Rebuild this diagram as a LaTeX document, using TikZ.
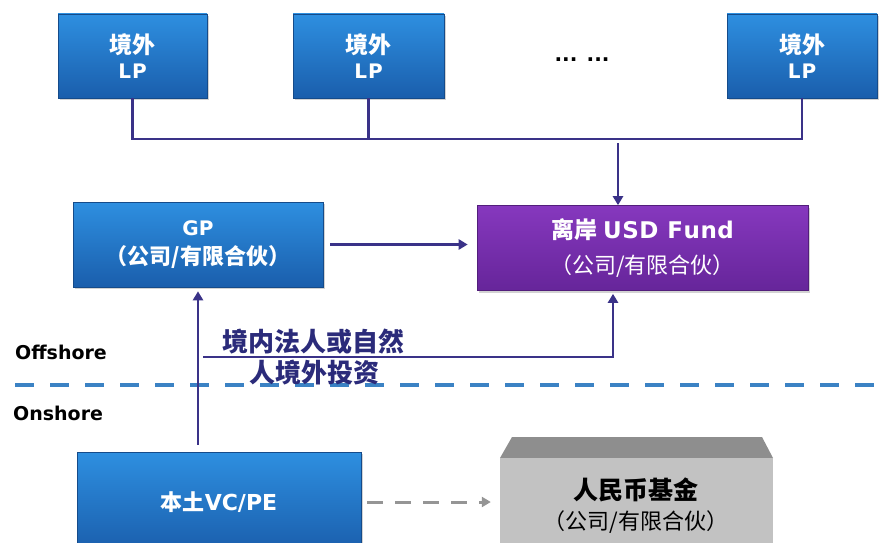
\documentclass[tikz,border=0pt]{standalone}
\usepackage{fontspec}
\newfontfamily\cjk{Noto Sans CJK SC}
\newfontfamily\dv{DejaVu Sans}
\usetikzlibrary{arrows.meta,shadows}
\definecolor{boxtop}{HTML}{2E8FE0}
\definecolor{boxbot}{HTML}{1A5EAC}
\definecolor{purtop}{HTML}{8638BE}
\definecolor{purbot}{HTML}{66259A}
\definecolor{arrowc}{HTML}{3A3288}
\definecolor{divc}{HTML}{3B82C4}
\definecolor{grayarr}{HTML}{959595}
\definecolor{rmbfront}{HTML}{C2C2C2}
\definecolor{rmbtop}{HTML}{8E8E8E}
\definecolor{labc}{HTML}{2B2B7A}
\tikzset{
  bluebox/.style={rectangle, top color=boxtop, bottom color=boxbot, draw=boxbot!80!black, line width=0.6pt,
    text=white, align=center, inner sep=0pt,
    drop shadow={shadow xshift=1.5pt, shadow yshift=-2pt, opacity=0.35}},
  purbox/.style={rectangle, top color=purtop, bottom color=purbot, draw=purbot!80!black, line width=0.6pt,
    text=white, align=center, inner sep=0pt,
    drop shadow={shadow xshift=1.5pt, shadow yshift=-2pt, opacity=0.35}},
  conn/.style={draw=arrowc, line width=2.6pt},
  arr/.style={conn, -{Triangle[width=10pt,length=9pt]}},
  garr/.style={draw=grayarr, line width=3pt, dash pattern=on 16pt off 12pt, -{Triangle[width=10pt,length=9pt]}},
  divider/.style={draw=divc, line width=4pt, dash pattern=on 19pt off 16pt},
  lab/.style={text=labc, inner sep=0pt},
  side/.style={text=black, inner sep=0pt, anchor=west, font=\dv\bfseries\fontsize{19}{22}\selectfont},
}
\newcommand{\cb}[1]{{\cjk\bfseries #1}}
\newcommand{\lb}[1]{{\dv\bfseries #1}}
\newcommand{\lptext}{\fontsize{23}{26}\selectfont\cb{境外}\\[8pt]\fontsize{20}{24}\selectfont\lb{L\kern1pt P}}
\begin{document}
\begin{tikzpicture}[x=1pt,y=-1pt]
\clip (0,0) rectangle (881,543);
\fill[white] (0,0) rectangle (881,543);

% top LP boxes
\node[bluebox, minimum width=149pt, minimum height=84pt] (lp1) at (132.5,56) {\lptext};
\node[bluebox, minimum width=151pt, minimum height=84pt] (lp2) at (368.5,56) {\lptext};
\node[bluebox, minimum width=150pt, minimum height=84pt] (lp3) at (802,56) {\lptext};
\node[text=black, inner sep=0pt, font=\dv\bfseries\fontsize{20}{24}\selectfont] (dots) at (582,60) {... ...};

% GP and Fund
\node[bluebox, minimum width=250pt, minimum height=85pt] (gp) at (198,244.5)
  {\fontsize{20}{24}\selectfont\lb{GP}\\[9pt]\fontsize{22}{26}\selectfont\cb{（公司/有限合伙）}};
\node[purbox, minimum width=331pt, minimum height=85pt] (fund) at (642.5,248)
  {\fontsize{23}{26}\selectfont\cb{离岸}\hspace{6pt}\lb{U\kern0.5pt S\kern0.5pt D\kern1pt\ F\kern0.5pt u\kern0.5pt n\kern0.5pt d}\\[12pt]\fontsize{22}{26}\selectfont{\cjk （公司/有限合伙）}};

% onshore boxes
\node[bluebox, minimum width=284pt, minimum height=100pt, drop shadow={opacity=0}] (vc) at (219,502)
  {\fontsize{22}{26}\selectfont\cb{本土}\lb{VC/PE}};
\fill[rmbtop] (512,437) -- (762,437) -- (773,458) -- (500,458) -- cycle;
\node[rectangle, fill=rmbfront, minimum width=273pt, minimum height=92pt, inner sep=0pt, align=center] (rmb) at (636.5,504)
  {};
\node[text=black, inner sep=0pt, font=\cjk\bfseries\fontsize{25}{28}\selectfont] (rmbt1) at (636,490) {人民币基金};
\node[text=black, inner sep=0pt, font=\cjk\fontsize{22}{26}\selectfont] (rmbt2) at (636,522) {（公司/有限合伙）};

% divider and side labels
\coordinate (divl) at (15,385);
\coordinate (divr) at (881,385);
\draw[divider] (divl) -- (divr);
\node[side] (offl) at (15,352) {Offshore};
\node[side] (onl) at (13,413) {Onshore};

% LP bus
\coordinate (bus) at (0,139);
\coordinate (drop) at (618,139);
\draw[conn] (lp1.south) -- (lp1.south |- bus) -- (lp3.south |- bus) -- (lp3.south);
\draw[conn] (lp2.south) -- (lp2.south |- bus);
\draw[arr, shorten <=4pt] (drop) -- (drop |- fund.north);

% GP -> Fund
\draw[arr, shorten <=7pt, shorten >=9pt] (gp.east) -- (gp.east -| fund.west);

% VC -> GP
\draw[arr, shorten <=7pt, shorten >=4pt] (vc.north -| gp.south) -- (gp.south);

% onshore persons -> Fund
\coordinate (inv) at (203,357);
\coordinate (invc) at (613,357);
\draw[arr, shorten >=3pt] (inv) -- (invc) -- (invc |- fund.south);
\node[lab, font=\cjk\bfseries\fontsize{26}{28}\selectfont] (inv1) at (313,342) {境内法人或自然};
\node[lab, font=\cjk\bfseries\fontsize{26}{28}\selectfont] (inv2) at (314,373) {人境外投资};

% VC -> RMB (dashed gray)
\draw[garr, shorten <=6pt, shorten >=9pt] (vc.east) -- (vc.east -| rmb.west);
\end{tikzpicture}
\end{document}
